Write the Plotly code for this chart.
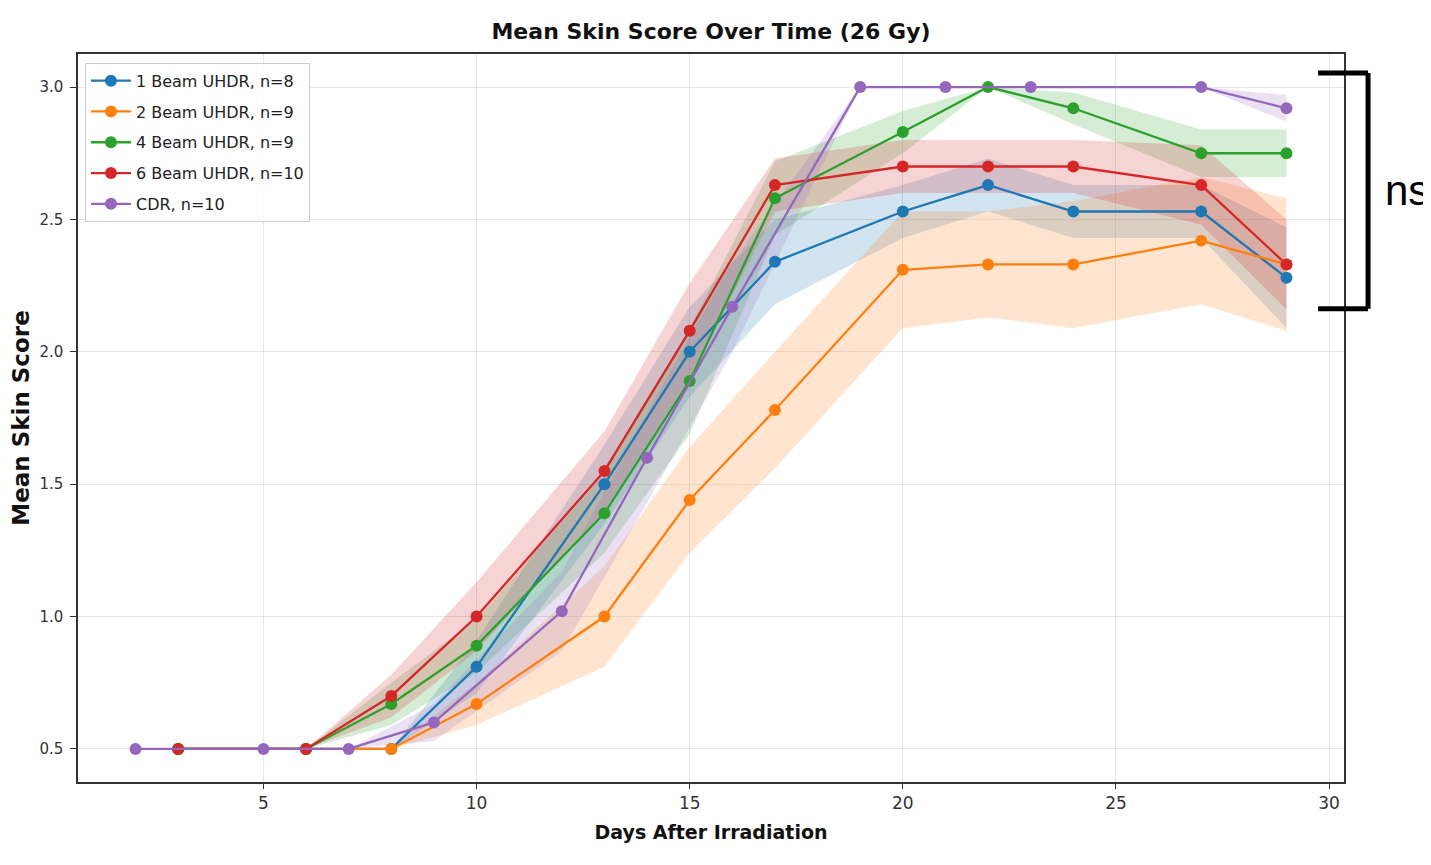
import plotly.graph_objects as go

# ---------------- data ----------------
days_uhdr = [3, 6, 8, 10, 13, 15, 17, 20, 22, 24, 27, 29]
days_cdr = [2, 5, 7, 9, 12, 14, 16, 19, 21, 23, 27, 29]

beam1 = [0.5, 0.5, 0.5, 0.81, 1.5, 2.0, 2.34, 2.53, 2.63, 2.53, 2.53, 2.28]
beam1_sem = [0, 0, 0, 0.1, 0.15, 0.17, 0.16, 0.1, 0.1, 0.1, 0.1, 0.19]
beam2 = [0.5, 0.5, 0.5, 0.67, 1.0, 1.44, 1.78, 2.31, 2.33, 2.33, 2.42, 2.33]
beam2_sem = [0, 0, 0, 0.08, 0.19, 0.2, 0.22, 0.22, 0.2, 0.24, 0.24, 0.25]
beam4 = [0.5, 0.5, 0.67, 0.89, 1.39, 1.89, 2.58, 2.83, 3.0, 2.92, 2.75, 2.75]
beam4_sem = [0, 0, 0.08, 0.1, 0.15, 0.2, 0.14, 0.08, 0, 0.06, 0.09, 0.09]
beam6 = [0.5, 0.5, 0.7, 1.0, 1.55, 2.08, 2.63, 2.7, 2.7, 2.7, 2.63, 2.33]
beam6_sem = [0, 0, 0.08, 0.13, 0.15, 0.18, 0.1, 0.1, 0.1, 0.1, 0.15, 0.17]
cdr = [0.5, 0.5, 0.5, 0.6, 1.02, 1.6, 2.17, 3.0, 3.0, 3.0, 3.0, 2.92]
cdr_sem = [0, 0, 0, 0.07, 0.15, 0.17, 0.17, 0, 0, 0, 0, 0.05]

series_names = ["1 Beam UHDR, n=8", "2 Beam UHDR, n=9", "4 Beam UHDR, n=9",
                "6 Beam UHDR, n=10", "CDR, n=10"]
x_ticks = [5, 10, 15, 20, 25, 30]
y_ticks = [0.5, 1.0, 1.5, 2.0, 2.5, 3.0]

colors = ["#1f77b4", "#ff7f0e", "#2ca02c", "#d62728", "#9467bd"]
fills = ["rgba(31,119,180,0.2)", "rgba(255,127,14,0.2)", "rgba(44,160,44,0.2)",
         "rgba(214,39,40,0.2)", "rgba(148,103,189,0.2)"]

series = [
    (days_uhdr, beam1, beam1_sem),
    (days_uhdr, beam2, beam2_sem),
    (days_uhdr, beam4, beam4_sem),
    (days_uhdr, beam6, beam6_sem),
    (days_cdr, cdr, cdr_sem),
]

FONT = "DejaVu Sans, sans-serif"

# page body has an 8px margin: the figure is sized/offset to compensate
W, H = 1423, 857

fig = go.Figure()
# shaded bands first (below all lines)
for (xs, ys, sem), name, fc in zip(series, series_names, fills):
    upper = [y + s for y, s in zip(ys, sem)]
    lower = [y - s for y, s in zip(ys, sem)]
    fig.add_trace(go.Scatter(
        x=list(xs) + list(xs)[::-1], y=upper + lower[::-1],
        fill="toself", fillcolor=fc, line=dict(width=0), legendgroup=name,
        mode="lines", showlegend=False, hoverinfo="skip"))
# lines with markers on top
for (xs, ys, sem), name, c in zip(series, series_names, colors):
    fig.add_trace(go.Scatter(
        x=xs, y=ys, mode="lines+markers", name=name, legendgroup=name,
        line=dict(color=c, width=2.3),
        marker=dict(color=c, size=12)))

fig.update_layout(
    width=W, height=H,
    paper_bgcolor="white", plot_bgcolor="white",
    margin=dict(l=70, r=87, t=46, b=83),
    title=dict(text="<b>Mean Skin Score Over Time (26 Gy)</b>",
               x=0.5, xref="paper", y=1 - 23 / H, yanchor="middle",
               font=dict(family=FONT, size=22, color="#111")),
    legend=dict(x=0.0055, y=0.988, xanchor="left", yanchor="top",
                bgcolor="rgba(255,255,255,0.85)", bordercolor="#cccccc",
                borderwidth=1, font=dict(family=FONT, size=16, color="#222"),
                tracegroupgap=7, itemwidth=40),
    font=dict(family=FONT, color="#333"),
)

fig.update_xaxes(
    range=[0.65, 30.35], tickvals=x_ticks, ticktext=[str(t) for t in x_ticks],
    showline=True, mirror=True, linecolor="#333", linewidth=1.5,
    ticks="outside", ticklen=5, tickcolor="#333",
    showgrid=True, gridcolor="rgba(0,0,0,0.09)", gridwidth=1, zeroline=False,
    tickfont=dict(family=FONT, size=17, color="#333"),
    title=dict(text="<b>Days After Irradiation</b>", standoff=14,
               font=dict(family=FONT, size=19, color="#111")),
    automargin=False,
)
fig.update_yaxes(
    range=[0.375, 3.125], tickvals=y_ticks, ticktext=[f"{t:.1f}" for t in y_ticks],
    showline=True, mirror=True, linecolor="#333", linewidth=1.5,
    ticks="outside", ticklen=6, tickcolor="#333", ticklabelstandoff=4,
    showgrid=True, gridcolor="rgba(0,0,0,0.09)", gridwidth=1, zeroline=False,
    tickfont=dict(family=FONT, size=15, color="#333"),
    title=dict(text="<b>Mean Skin Score</b>", standoff=8,
               font=dict(family=FONT, size=23, color="#111")),
    automargin=False,
)

# significance bracket ("ns")
bx0, bx1 = 0.9795, 1.019
by0, by1 = 0.650, 0.974
for xa, ya, xb, yb in [(bx0, by1, bx1, by1), (bx1, by1, bx1, by0), (bx0, by0, bx1, by0)]:
    fig.add_shape(type="line", xref="paper", yref="paper",
                  x0=xa, y0=ya, x1=xb, y1=yb,
                  line=dict(color="black", width=5))
fig.add_annotation(text="ns", xref="paper", yref="paper", x=1.031, y=0.813,
                   xanchor="left", yanchor="middle", showarrow=False,
                   font=dict(family="Liberation Sans, Arial", size=42, color="black"))

fig.write_html("out.html")
